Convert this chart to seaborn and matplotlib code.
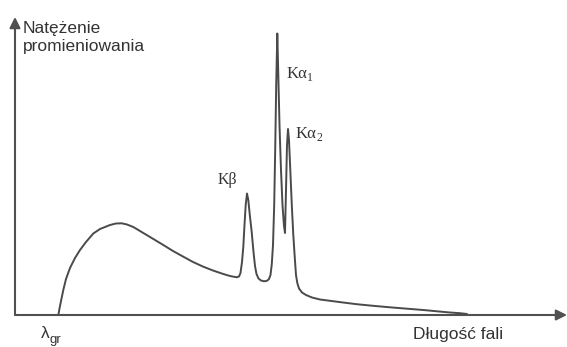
import matplotlib
matplotlib.use("Agg")
import matplotlib.pyplot as plt
import seaborn as sns
import pandas as pd

# wavelength (arbitrary units) and radiation intensity (arbitrary units)
wavelength = [43.3, 45, 48.3, 51, 55, 60, 65, 71, 78.3, 85, 95, 101, 106.7, 112, 118.3, 125,
              131.7, 140, 148.3, 158, 168.3, 178, 188.3, 198, 208.3, 215, 221.7, 224, 225.5,
              227, 228.3, 229.5, 230.7, 232, 233.3, 234.8, 236.7, 238.5, 240, 241.5, 243.5,
              246, 249, 252, 254, 255.5, 256.8, 258, 259.2, 260.2, 261.2, 262.3, 263.3, 264.5,
              266, 267.5, 269, 270, 271, 272, 273, 274, 275.3, 276.8, 278.3, 279.8, 281, 282.3,
              284, 287, 291, 297, 305, 315, 328, 341.7, 358, 375, 392, 408.3, 422, 435, 445, 452]
intensity = [0, 9, 25, 36, 47, 57, 65, 73, 81.5, 86, 90, 91.5, 91.7, 90.5, 88, 84,
             80, 75, 70, 64, 58.3, 53, 48.3, 44.5, 41, 39, 37.7, 38.5, 42,
             53, 68, 90, 110, 121.5, 115, 100, 83, 63, 49, 41, 36.5,
             34.5, 33.7, 34.2, 36, 40, 51, 70, 110, 165, 230, 281.5, 240, 190,
             145, 110, 89, 82, 125, 170, 186, 175, 145, 110, 80, 57, 40, 32,
             26.5, 22.5, 20, 17.5, 15.5, 14.2, 12.5, 10.8, 9.2, 7.7, 6.3, 5, 3.7, 2.5, 1.8, 1]

df = pd.DataFrame({"wavelength": wavelength, "intensity": intensity})

W, H = 567, 347
sns.set_style("white")
plt.rcParams["font.family"] = ["Liberation Sans", "DejaVu Sans"]

fig = plt.figure(figsize=(W / 100, H / 100), dpi=100)
ax = fig.add_axes([15 / W, (H - 315) / H, 552 / W, 298 / H])

sns.lineplot(data=df, x="wavelength", y="intensity", ax=ax, sort=False,
             estimator=None, color="#4a4a4a", lw=1.4)

ax.set_xlim(0, 552)
ax.set_ylim(0, 298)
ax.set(xlabel=None, ylabel=None, xticks=[], yticks=[])
for s in ax.spines.values():
    s.set_visible(False)

axis_col = "#505050"
ax.annotate("", xy=(1, 0), xytext=(0, 0), xycoords="axes fraction",
            arrowprops=dict(arrowstyle="-|>", color=axis_col, lw=1.5,
                            mutation_scale=16, shrinkA=0, shrinkB=0))
ax.annotate("", xy=(0, 1), xytext=(0, 0), xycoords="axes fraction",
            arrowprops=dict(arrowstyle="-|>", color=axis_col, lw=1.5,
                            mutation_scale=16, shrinkA=0, shrinkB=0))


def px_text(x, y, s, **kw):
    fig.text(x / W, 1 - y / H, s, va="baseline", ha="left", **kw)


txt_col = "#333333"
px_text(22.5, 33, "Natężenie", fontsize=12.5, color=txt_col)
px_text(22.5, 51.5, "promieniowania", fontsize=12.5, color=txt_col)
px_text(413, 339.5, "Długość fali", fontsize=12.5, color=txt_col)
px_text(41, 338, "λ", fontsize=12.5, color=txt_col)
px_text(50, 343, "gr", fontsize=9.5, color=txt_col)

# peak labels: upright serif letters with a small subscript
serif = ["Liberation Serif", "DejaVu Serif"]
px_text(218, 184, "Kβ", fontsize=11.5, color=txt_col, family=serif)
px_text(287, 78, "Kα", fontsize=12, color=txt_col, family=serif)
px_text(307.2, 81, "1", fontsize=8.5, color=txt_col, family=serif)
px_text(296, 138, "Kα", fontsize=12, color=txt_col, family=serif)
px_text(316.2, 141, "2", fontsize=8.5, color=txt_col, family=serif)

fig.savefig("out.png", dpi=100)
